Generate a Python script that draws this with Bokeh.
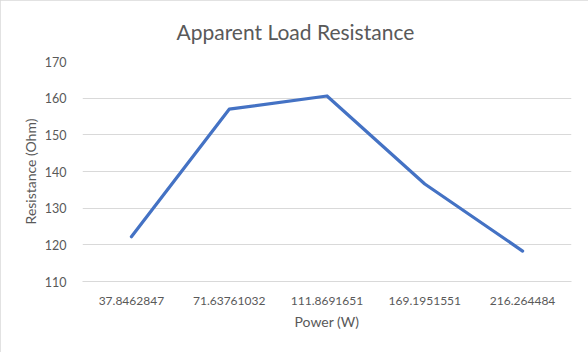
from bokeh.plotting import figure
from bokeh.models import FactorRange, Range1d, ColumnDataSource, FixedTicker
from bokeh.embed import file_html
from bokeh.resources import INLINE

power_labels = ["37.8462847", "71.63761032", "111.8691651", "169.1951551", "216.264484"]
resistance = [122.2, 157.0, 160.6, 136.6, 118.3]
y_ticks = [110, 120, 130, 140, 150, 160, 170]
title_text = "Apparent Load Resistance"

FONT = "Lato"
GRAY = "#595959"

p = figure(width=588, height=352, output_backend="svg", toolbar_location=None,
           x_range=FactorRange(*power_labels), y_range=Range1d(110, 170),
           min_border_left=82, min_border_right=17, min_border_top=61, min_border_bottom=71)

src = ColumnDataSource(dict(x=power_labels, y=resistance))
p.line("x", "y", source=src, line_color="#4472C4", line_width=3.2,
       line_join="round", line_cap="round")

p.title.text = title_text
p.title.align = "left"
p.title.offset = 94
p.title.vertical_align = "middle"
p.title.standoff = 33
p.title.text_font = FONT
p.title.text_font_size = "21px"
p.title.text_font_style = "normal"
p.title.text_color = GRAY

p.yaxis.ticker = FixedTicker(ticks=y_ticks)
p.ygrid.ticker = FixedTicker(ticks=y_ticks)
p.xgrid.visible = False
p.ygrid.grid_line_color = "#d9d9d9"
p.ygrid.grid_line_width = 1

for ax in (p.xaxis[0], p.yaxis[0]):
    ax.major_tick_line_color = None
    ax.minor_tick_line_color = None
    ax.major_label_text_font = FONT
    ax.major_label_text_font_size = "12px"
    ax.major_label_text_color = GRAY
    ax.axis_label_text_font = FONT
    ax.axis_label_text_font_size = "14px"
    ax.axis_label_text_font_style = "normal"
    ax.axis_label_text_color = GRAY

p.yaxis.major_label_text_font_size = "12.5px"
p.yaxis.axis_line_color = None
p.xaxis.axis_line_color = "#d9d9d9"
p.xaxis.major_label_standoff = 9
p.yaxis.major_label_standoff = 10
p.xaxis.axis_label = "Power (W)"
p.yaxis.axis_label = "Resistance (Ohm)"
p.xaxis.axis_label_standoff = 5
p.yaxis.axis_label_standoff = 3
p.outline_line_color = None
p.styles = {"outline": "1px solid #d9d9d9", "outline-offset": "-1px"}

open("out.html", "w").write(file_html(p, INLINE))
